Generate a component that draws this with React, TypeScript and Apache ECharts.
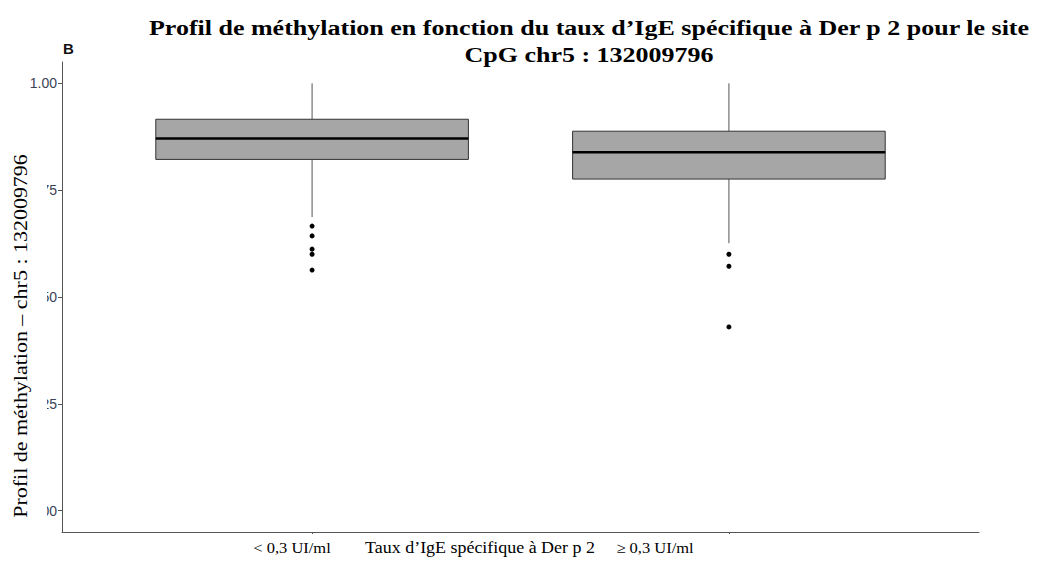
import React, { useEffect, useRef } from "react";
import * as echarts from "echarts";

// ---- Data ----
const categories = ["< 0,3 UI/ml", "≥ 0,3 UI/ml"];
const categoryPos = [1, 2];
const whiskerLow = [0.687, 0.626];
const q1 = [0.822, 0.776];
const median = [0.871, 0.839];
const q3 = [0.916, 0.888];
const whiskerHigh = [1.0, 1.0];
const outliers = [
  [0.666, 0.643, 0.612, 0.6, 0.563],
  [0.6, 0.572, 0.43],
];
const yTicks = [0, 0.25, 0.5, 0.75, 1.0];

const titleLine1 = "Profil de méthylation en fonction du taux d’IgE spécifique à Der p 2 pour le site";
const titleLine2 = "CpG chr5 : 132009796";
const yName = "Profil de méthylation – chr5 : 132009796";
const xName = "Taux d’IgE spécifique à Der p 2";

export default function App() {
  const ref = useRef<HTMLDivElement>(null);
  useEffect(() => {
    if (!ref.current) return;
    const chart = echarts.init(ref.current, undefined, { renderer: "svg" });

    const boxData = categoryPos.map((p, i) => [
      p,
      whiskerLow[i],
      q1[i],
      median[i],
      q3[i],
      whiskerHigh[i],
    ]);
    const outlierData: number[][] = [];
    outliers.forEach((arr, i) => arr.forEach((v) => outlierData.push([categoryPos[i], v])));

    const serif = "'Liberation Serif', 'Times New Roman', serif";

    chart.setOption({
      animation: false,
      backgroundColor: "#ffffff",
      grid: { left: 62, right: 59, top: 62, bottom: 36, containLabel: false },
      xAxis: {
        type: "value",
        min: 0.4,
        max: 2.6,
        axisLine: { show: true, onZero: false, lineStyle: { color: "#555555", width: 1 } },
        axisTick: { show: true, length: 2, customValues: categoryPos, lineStyle: { color: "#555555" } },
        axisLabel: { show: false },
        splitLine: { show: false },
      },
      yAxis: {
        type: "value",
        min: -0.05,
        max: 1.05,
        axisLine: { show: true, onZero: false, lineStyle: { color: "#555555", width: 1 } },
        axisTick: { show: true, length: 4, customValues: yTicks, lineStyle: { color: "#555555" } },
        axisLabel: {
          show: true,
          customValues: yTicks,
          formatter: (v: number) => v.toFixed(2),
          color: "#3b4256",
          fontFamily: "'Liberation Sans', Arial, sans-serif",
          fontSize: 14,
          margin: 5,
        },
        splitLine: { show: false },
      },
      series: [
        {
          type: "custom",
          data: boxData,
          encode: { x: 0, y: [1, 2, 3, 4, 5] },
          renderItem: (params: any, api: any) => {
            const x = api.value(0);
            const pWl = api.coord([x, api.value(1)]);
            const pQ1 = api.coord([x, api.value(2)]);
            const pMed = api.coord([x, api.value(3)]);
            const pQ3 = api.coord([x, api.value(4)]);
            const pWh = api.coord([x, api.value(5)]);
            const half = api.size([0.75, 0])[0] / 2;
            const cx = pMed[0];
            return {
              type: "group",
              children: [
                {
                  type: "line",
                  shape: { x1: cx, y1: pWh[1], x2: cx, y2: pQ3[1] },
                  style: { stroke: "#555555", lineWidth: 1 },
                },
                {
                  type: "line",
                  shape: { x1: cx, y1: pQ1[1], x2: cx, y2: pWl[1] },
                  style: { stroke: "#555555", lineWidth: 1 },
                },
                {
                  type: "rect",
                  shape: { x: cx - half, y: pQ3[1], width: half * 2, height: pQ1[1] - pQ3[1] },
                  style: { fill: "#a6a6a6", stroke: "#333333", lineWidth: 1 },
                },
                {
                  type: "line",
                  shape: { x1: cx - half, y1: pMed[1], x2: cx + half, y2: pMed[1] },
                  style: { stroke: "#000000", lineWidth: 2.5 },
                },
              ],
            };
          },
        },
        {
          type: "scatter",
          data: outlierData,
          symbol: "circle",
          symbolSize: 5,
          itemStyle: { color: "#000000", opacity: 1 },
        },
      ],
      graphic: [
        {
          type: "text",
          x: 63,
          y: 48,
          z: 100,
          style: {
            text: "B",
            font: "bold 15px 'Liberation Sans', Arial, sans-serif",
            fill: "#111111",
            verticalAlign: "middle",
            align: "left",
          },
        },
        {
          type: "rect",
          z: 100,
          shape: { x: 75, y: 8, width: 963, height: 64 },
          style: { fill: "#ffffff" },
        },
        {
          type: "text",
          x: 589,
          y: 28,
          z: 101,
          scaleX: 1.238,
          style: {
            text: titleLine1,
            font: `bold 21px ${serif}`,
            fill: "#000000",
            align: "center",
            verticalAlign: "middle",
          },
        },
        {
          type: "text",
          x: 589,
          y: 55,
          z: 101,
          scaleX: 1.238,
          style: {
            text: titleLine2,
            font: `bold 21px ${serif}`,
            fill: "#000000",
            align: "center",
            verticalAlign: "middle",
          },
        },
        {
          type: "rect",
          z: 100,
          shape: { x: 0, y: 150, width: 47, height: 390 },
          style: { fill: "#ffffff" },
        },
        {
          type: "text",
          x: 21,
          y: 336,
          z: 101,
          rotation: Math.PI / 2,
          scaleX: 1.157,
          style: {
            text: yName,
            font: `19px ${serif}`,
            fill: "#000000",
            align: "center",
            verticalAlign: "middle",
          },
        },
        {
          type: "text",
          x: 292,
          y: 548,
          z: 101,
          scaleX: 1.1,
          style: {
            text: categories[0],
            font: `15px ${serif}`,
            fill: "#000000",
            align: "center",
            verticalAlign: "middle",
          },
        },
        {
          type: "text",
          x: 480,
          y: 547,
          z: 101,
          scaleX: 1.055,
          style: {
            text: xName,
            font: `17px ${serif}`,
            fill: "#000000",
            align: "center",
            verticalAlign: "middle",
          },
        },
        {
          type: "text",
          x: 655,
          y: 548,
          z: 101,
          scaleX: 1.1,
          style: {
            text: categories[1],
            font: `15px ${serif}`,
            fill: "#000000",
            align: "center",
            verticalAlign: "middle",
          },
        },
      ],
    });
    return () => chart.dispose();
  }, []);
  return (
    <div
      ref={ref}
      style={{ position: "absolute", left: 0, top: 0, width: 1038, height: 568 }}
    />
  );
}
